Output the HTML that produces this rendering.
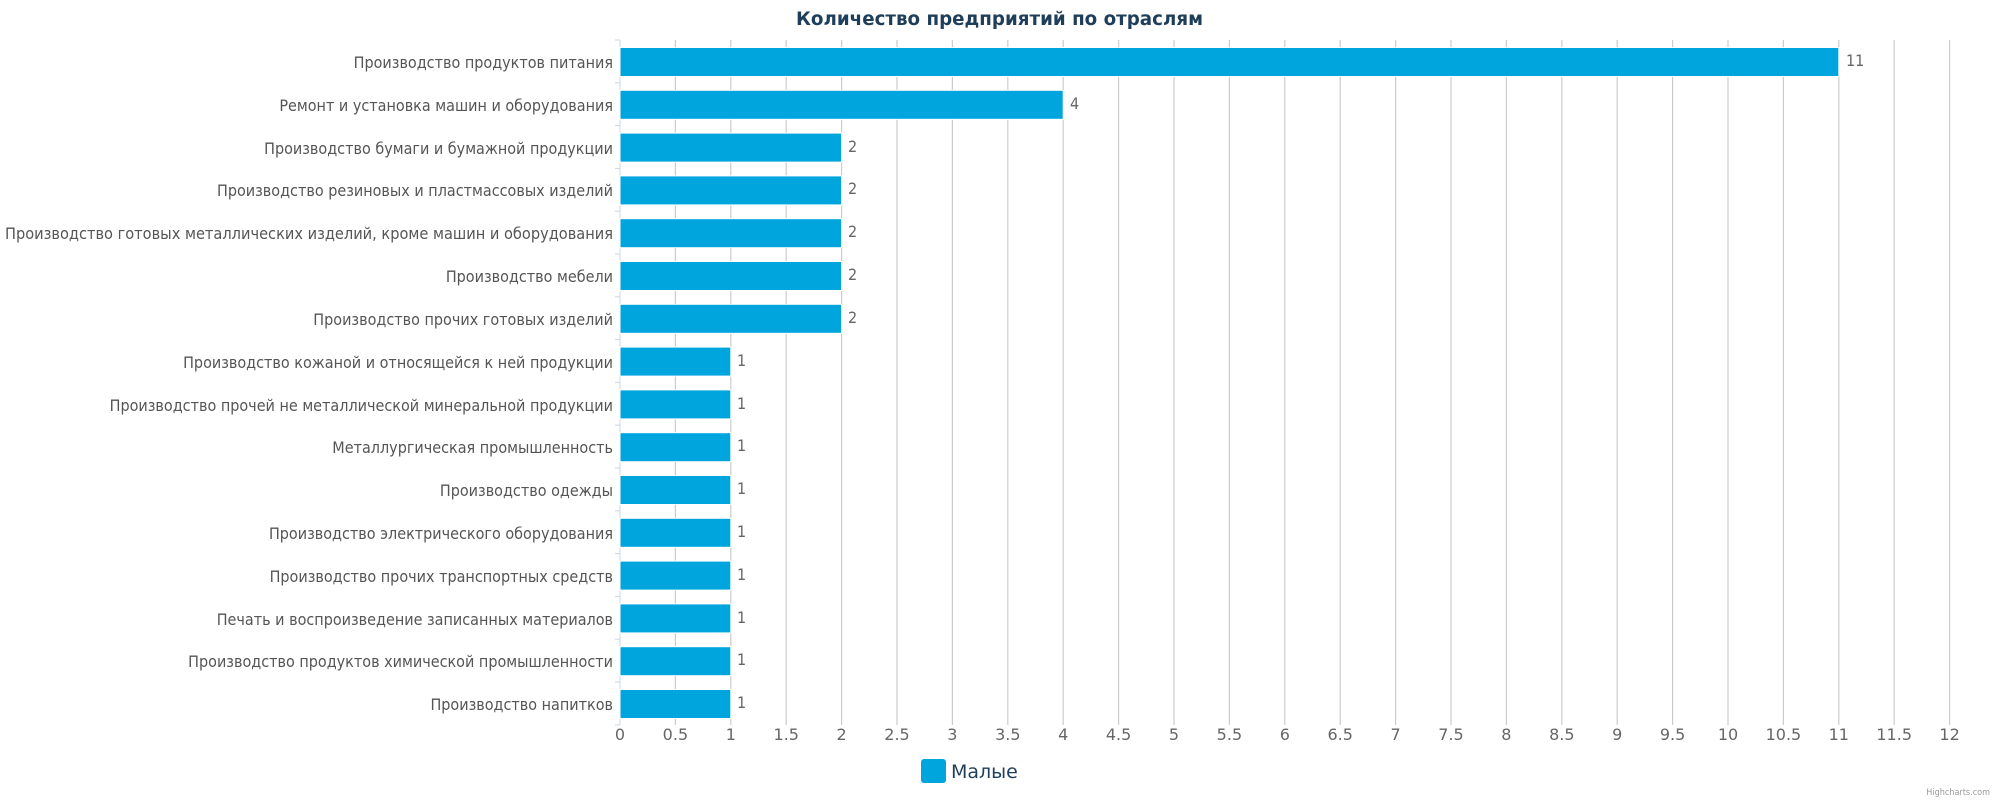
<!DOCTYPE html>
<html><head><meta charset="utf-8"><style>html,body{margin:0;padding:0;background:#fff}svg{display:block}</style></head>
<body>
<svg width="2000" height="800" xmlns="http://www.w3.org/2000/svg">
<rect width="2000" height="800" fill="#fff"/>
<text x="999.5" y="25" text-anchor="middle" font-family="DejaVu Sans, sans-serif" font-weight="bold" font-size="19" fill="#1f3e5a" textLength="407" lengthAdjust="spacingAndGlyphs">Количество предприятий по отраслям</text>
<g stroke="#cccccc" stroke-width="1.2">
<line x1="675.4" y1="40" x2="675.4" y2="725"/><line x1="730.8" y1="40" x2="730.8" y2="725"/><line x1="786.2" y1="40" x2="786.2" y2="725"/><line x1="841.6" y1="40" x2="841.6" y2="725"/><line x1="897" y1="40" x2="897" y2="725"/><line x1="952.4" y1="40" x2="952.4" y2="725"/><line x1="1007.8" y1="40" x2="1007.8" y2="725"/><line x1="1063.2" y1="40" x2="1063.2" y2="725"/><line x1="1118.6" y1="40" x2="1118.6" y2="725"/><line x1="1174" y1="40" x2="1174" y2="725"/><line x1="1229.4" y1="40" x2="1229.4" y2="725"/><line x1="1284.8" y1="40" x2="1284.8" y2="725"/><line x1="1340.2" y1="40" x2="1340.2" y2="725"/><line x1="1395.6" y1="40" x2="1395.6" y2="725"/><line x1="1451" y1="40" x2="1451" y2="725"/><line x1="1506.4" y1="40" x2="1506.4" y2="725"/><line x1="1561.8" y1="40" x2="1561.8" y2="725"/><line x1="1617.2" y1="40" x2="1617.2" y2="725"/><line x1="1672.6" y1="40" x2="1672.6" y2="725"/><line x1="1728" y1="40" x2="1728" y2="725"/><line x1="1783.4" y1="40" x2="1783.4" y2="725"/><line x1="1838.8" y1="40" x2="1838.8" y2="725"/><line x1="1894.2" y1="40" x2="1894.2" y2="725"/><line x1="1949.6" y1="40" x2="1949.6" y2="725"/>
</g>
<line x1="620" y1="40" x2="620" y2="725" stroke="#ccd6eb" stroke-width="1"/>
<g stroke="#ccd6eb" stroke-width="1">
<line x1="615" y1="40" x2="620" y2="40"/><line x1="615" y1="82.8" x2="620" y2="82.8"/><line x1="615" y1="125.6" x2="620" y2="125.6"/><line x1="615" y1="168.4" x2="620" y2="168.4"/><line x1="615" y1="211.2" x2="620" y2="211.2"/><line x1="615" y1="254" x2="620" y2="254"/><line x1="615" y1="296.8" x2="620" y2="296.8"/><line x1="615" y1="339.6" x2="620" y2="339.6"/><line x1="615" y1="382.4" x2="620" y2="382.4"/><line x1="615" y1="425.2" x2="620" y2="425.2"/><line x1="615" y1="468" x2="620" y2="468"/><line x1="615" y1="510.8" x2="620" y2="510.8"/><line x1="615" y1="553.6" x2="620" y2="553.6"/><line x1="615" y1="596.4" x2="620" y2="596.4"/><line x1="615" y1="639.2" x2="620" y2="639.2"/><line x1="615" y1="682" x2="620" y2="682"/><line x1="615" y1="725" x2="620" y2="725"/>
</g>
<g fill="#00a5de" stroke="#fff" stroke-width="1">
<rect x="620" y="47.5" width="1218.8" height="29"/>
<rect x="620" y="90.3" width="443.2" height="29"/>
<rect x="620" y="133.1" width="221.6" height="29"/>
<rect x="620" y="175.9" width="221.6" height="29"/>
<rect x="620" y="218.7" width="221.6" height="29"/>
<rect x="620" y="261.5" width="221.6" height="29"/>
<rect x="620" y="304.3" width="221.6" height="29"/>
<rect x="620" y="347.1" width="110.8" height="29"/>
<rect x="620" y="389.9" width="110.8" height="29"/>
<rect x="620" y="432.7" width="110.8" height="29"/>
<rect x="620" y="475.5" width="110.8" height="29"/>
<rect x="620" y="518.3" width="110.8" height="29"/>
<rect x="620" y="561.1" width="110.8" height="29"/>
<rect x="620" y="603.9" width="110.8" height="29"/>
<rect x="620" y="646.7" width="110.8" height="29"/>
<rect x="620" y="689.5" width="110.8" height="29"/>
</g>
<g font-family="DejaVu Sans Condensed, DejaVu Sans, sans-serif" font-size="16" fill="#666">
<text x="1846" y="66">11</text><text x="1070" y="109">4</text><text x="848" y="152">2</text><text x="848" y="194">2</text><text x="848" y="237">2</text><text x="848" y="280">2</text><text x="848" y="323">2</text>
<text x="737" y="366">1</text><text x="737" y="409">1</text><text x="737" y="451">1</text><text x="737" y="494">1</text><text x="737" y="537">1</text><text x="737" y="580">1</text><text x="737" y="623">1</text><text x="737" y="665">1</text><text x="737" y="708">1</text>
</g>
<g font-family="DejaVu Sans Condensed, DejaVu Sans, sans-serif" font-size="16" fill="#555" text-anchor="end">
<text x="613" y="68">Производство продуктов питания</text>
<text x="613" y="111">Ремонт и установка машин и оборудования</text>
<text x="613" y="154">Производство бумаги и бумажной продукции</text>
<text x="613" y="196">Производство резиновых и пластмассовых изделий</text>
<text x="613" y="239" textLength="608" lengthAdjust="spacingAndGlyphs">Производство готовых металлических изделий, кроме машин и оборудования</text>
<text x="613" y="282">Производство мебели</text>
<text x="613" y="325">Производство прочих готовых изделий</text>
<text x="613" y="368">Производство кожаной и относящейся к ней продукции</text>
<text x="613" y="411">Производство прочей не металлической минеральной продукции</text>
<text x="613" y="453">Металлургическая промышленность</text>
<text x="613" y="496">Производство одежды</text>
<text x="613" y="539">Производство электрического оборудования</text>
<text x="613" y="582">Производство прочих транспортных средств</text>
<text x="613" y="625">Печать и воспроизведение записанных материалов</text>
<text x="613" y="667">Производство продуктов химической промышленности</text>
<text x="613" y="710">Производство напитков</text>
</g>
<g font-family="DejaVu Sans, sans-serif" font-size="16" fill="#666" text-anchor="middle">
<text x="620" y="740">0</text><text x="675.4" y="740">0.5</text><text x="730.8" y="740">1</text><text x="786.2" y="740">1.5</text><text x="841.6" y="740">2</text><text x="897" y="740">2.5</text><text x="952.4" y="740">3</text><text x="1007.8" y="740">3.5</text><text x="1063.2" y="740">4</text><text x="1118.6" y="740">4.5</text><text x="1174" y="740">5</text><text x="1229.4" y="740">5.5</text><text x="1284.8" y="740">6</text><text x="1340.2" y="740">6.5</text><text x="1395.6" y="740">7</text><text x="1451" y="740">7.5</text><text x="1506.4" y="740">8</text><text x="1561.8" y="740">8.5</text><text x="1617.2" y="740">9</text><text x="1672.6" y="740">9.5</text><text x="1728" y="740">10</text><text x="1783.4" y="740">10.5</text><text x="1838.8" y="740">11</text><text x="1894.2" y="740">11.5</text><text x="1949.6" y="740">12</text>
</g>
<rect x="921" y="759" width="25" height="24" rx="3" fill="#00a5de"/>
<text x="951" y="778" font-family="DejaVu Sans, sans-serif" font-size="19" fill="#1f3e5a">Малые</text>
<text x="1990" y="795" text-anchor="end" font-family="DejaVu Sans Condensed, DejaVu Sans, sans-serif" font-size="9" fill="#999">Highcharts.com</text>
</svg>
</body></html>
